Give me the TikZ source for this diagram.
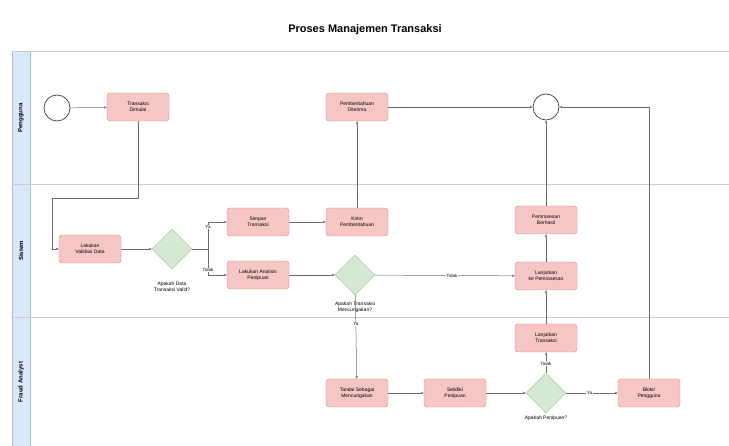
\documentclass[tikz,border=0pt]{standalone}
\usepackage{fontspec}
\setmainfont{Liberation Sans}
\usetikzlibrary{shapes.geometric, arrows.meta, positioning, calc}
\definecolor{taskfill}{RGB}{246, 198, 196}
\definecolor{taskline}{RGB}{184, 84, 80}
\definecolor{gatefill}{RGB}{213, 232, 212}
\definecolor{gateline}{RGB}{130, 179, 102}
\definecolor{lanefill}{RGB}{218, 232, 252}
\definecolor{laneline}{RGB}{108, 142, 191}
\definecolor{flowgray}{RGB}{110, 110, 110}

\begin{document}
\begin{tikzpicture}[x=1pt, y=-1pt,
  task/.style={draw=taskline!70, fill=taskfill, rounded corners=3pt, minimum width=62pt, minimum height=28pt, align=center, inner sep=1pt, font=\fontsize{5}{6}\selectfont},
  gate/.style={diamond, draw=gateline!80, fill=gatefill, minimum width=40pt, minimum height=40pt, inner sep=0pt},
  event/.style={circle, draw=black!75, fill=white, minimum size=26pt, inner sep=0pt, line width=0.7pt},
  gatetext/.style={align=center, font=\fontsize{5}{6}\selectfont},
  flow/.style={draw=flowgray, line width=0.5pt, -{Stealth[length=3pt, width=2.5pt]}},
  flowlabel/.style={fill=white, inner sep=0.5pt, font=\fontsize{4.5}{5}\selectfont},
  lanetext/.style={rotate=90, font=\fontsize{6}{7}\selectfont\bfseries}]
  \useasboundingbox (0,0) rectangle (729,446);

  % title
  \node[font=\fontsize{11}{13}\selectfont\bfseries] (title) at (365,30) {Proses Manajemen Transaksi};

  % pool and lanes
  \fill[lanefill] (12,52) rectangle (30,446);
  \draw[laneline!60, line width=0.6pt] (12,52) -- (12,446) (30,52) -- (30,446);
  \draw[black!20, line width=1pt] (12,52) -- (729,52);
  \draw[black!20, line width=1pt] (12,185) -- (729,185);
  \draw[black!20, line width=1pt] (12,318) -- (729,318);
  \node[lanetext] (lane1) at (21,118) {Pengguna};
  \node[lanetext] (lane2) at (21,251) {Sistem};
  \node[lanetext] (lane3) at (21,382) {Fraud Analyst};

  % Pengguna
  \node[event] (startev) at (57,108) {};
  \node[task] (dimulai) at (138,107) {Transaksi\\Dimulai};
  \node[task] (diterima) at (357,107) {Pemberitahuan\\Diterima};
  \node[event] (endev) at (546,107) {};

  % Sistem
  \node[task] (validasi) at (90,249) {Lakukan\\Validasi Data};
  \node[gate] (cekdata) at (172,249) {};
  \node[gatetext] (cekdatatext) at (172,287) {Apakah Data\\Transaksi Valid?};
  \node[task] (simpan) at (258,222) {Simpan\\Transaksi};
  \node[task] (analisis) at (258,275) {Lakukan Analisis\\Penipuan};
  \node[task] (kirim) at (357,222) {Kirim\\Pemberitahuan};
  \node[gate] (cekcuriga) at (355,275) {};
  \node[gatetext] (cekcurigatext) at (355,307) {Apakah Transaksi\\Mencurigakan?};
  \node[task] (berhasil) at (546,220) {Pemrosesan\\Berhasil};
  \node[task] (lanjut) at (546,276) {Lanjutkan\\ke Pemrosesan};

  % Fraud Analyst
  \node[task] (lanjutkan) at (546,338) {Lanjutkan\\Transaksi};
  \node[task] (tandai) at (357,393) {Tandai Sebagai\\Mencurigakan};
  \node[task] (selidiki) at (455,393) {Selidiki\\Penipuan};
  \node[gate] (cekpenipuan) at (546,393) {};
  \node[gatetext] (cekpenipuantext) at (546,418) {Apakah Penipuan?};
  \node[task] (blokir) at (649,393) {Blokir\\Pengguna};

  % connectors
  \coordinate (bend1) at (52,198);
  \coordinate (split1) at (208,249);
  \draw[flow] (startev) -- (dimulai);
  \draw[flow] (dimulai.south) |- (bend1) |- (validasi.west);
  \draw[flow] (validasi) -- (cekdata);
  \draw[draw=flowgray, line width=0.5pt] (cekdata.east) -- (split1);
  \draw[flow] (split1) |- node[flowlabel, pos=0.4] {Ya} (simpan.west);
  \draw[flow] (split1) |- node[flowlabel, pos=0.4] {Tidak} (analisis.west);
  \draw[flow] (simpan) -- (kirim);
  \draw[flow] (kirim) -- (diterima);
  \draw[flow] (diterima) -- (endev);
  \draw[flow] (analisis) -- (cekcuriga);
  \draw[flow] (cekcuriga) -- node[flowlabel, pos=0.55] {Tidak} (lanjut);
  \draw[flow] (cekcuriga) -- node[flowlabel, pos=0.35] {Ya} (tandai);
  \draw[flow] (lanjut) -- (berhasil);
  \draw[flow] (berhasil) -- (endev);
  \draw[flow] (tandai) -- (selidiki);
  \draw[flow] (selidiki) -- (cekpenipuan);
  \draw[flow] (cekpenipuan) -- node[flowlabel, pos=0.45] {Tidak} (lanjutkan);
  \draw[flow] (lanjutkan) -- (lanjut);
  \draw[flow] (cekpenipuan) -- node[flowlabel, pos=0.45] {Ya} (blokir);
  \draw[flow] (blokir.north) |- (endev.east);
\end{tikzpicture}
\end{document}
